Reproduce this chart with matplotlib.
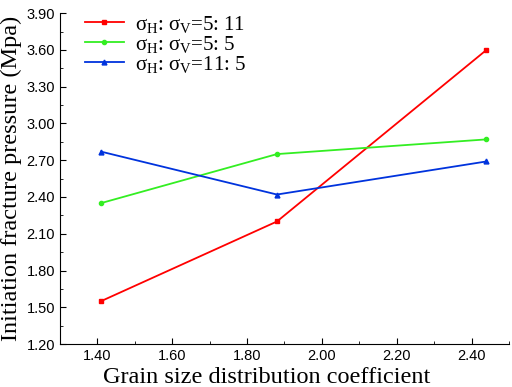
import matplotlib.pyplot as plt
from matplotlib.ticker import MultipleLocator

x = [1.41, 1.88, 2.44]
red = [1.55, 2.20, 3.60]
green = [2.35, 2.75, 2.87]
blue = [2.77, 2.42, 2.69]
labels = ['σ$_{\\rm H}$: σ$_{\\rm V}$=5: 11',
          'σ$_{\\rm H}$: σ$_{\\rm V}$=5: 5',
          'σ$_{\\rm H}$: σ$_{\\rm V}$=11: 5']

plt.rcParams['mathtext.fontset'] = 'custom'
plt.rcParams['mathtext.rm'] = 'Liberation Serif'
plt.rcParams['mathtext.it'] = 'Liberation Serif:italic'

fig = plt.figure(figsize=(5.12, 3.87), dpi=100)
ax = fig.add_axes([0.117, 0.111, 0.877, 0.855])

ax.plot(x, red, color='#ff0000', marker='s', markersize=3, linewidth=1.3, label=labels[0])
ax.plot(x, green, color='#33ee22', marker='o', markersize=3, linewidth=1.3, label=labels[1])
ax.plot(x, blue, color='#0033dd', marker='^', markersize=3.5, linewidth=1.3, label=labels[2])

ax.set_xlim(1.3, 2.5)
ax.set_ylim(1.2, 3.9)
ax.xaxis.set_major_locator(MultipleLocator(0.2))
ax.xaxis.set_minor_locator(MultipleLocator(0.1))
ax.yaxis.set_major_locator(MultipleLocator(0.3))
ax.yaxis.set_minor_locator(MultipleLocator(0.15))
ax.xaxis.set_major_formatter(plt.FormatStrFormatter('%.2f'))
ax.yaxis.set_major_formatter(plt.FormatStrFormatter('%.2f'))
ax.tick_params(which='both', direction='in', labelsize=10.5)
ax.tick_params(which='major', length=4)
ax.tick_params(which='minor', length=2)
for lab in ax.get_xticklabels() + ax.get_yticklabels():
    lab.set_fontfamily('Liberation Sans')

ax.spines['top'].set_visible(False)
ax.spines['right'].set_visible(False)

ax.set_xlabel('Grain size distribution coefficient', fontfamily='Liberation Serif', fontsize=17.5)
ax.xaxis.set_label_coords(0.46, -0.068)
ax.set_ylabel('Initiation fracture pressure (Mpa)', fontfamily='Liberation Serif', fontsize=17.5, labelpad=3)

ax.legend(loc='upper left', frameon=False, prop={'family': 'Liberation Serif', 'size': 15},
          handlelength=1.9, handletextpad=0.5, borderaxespad=0.1, labelspacing=-0.05,
          bbox_to_anchor=(0.032, 1.03))

plt.savefig('out.png', dpi=100)
plt.close()
